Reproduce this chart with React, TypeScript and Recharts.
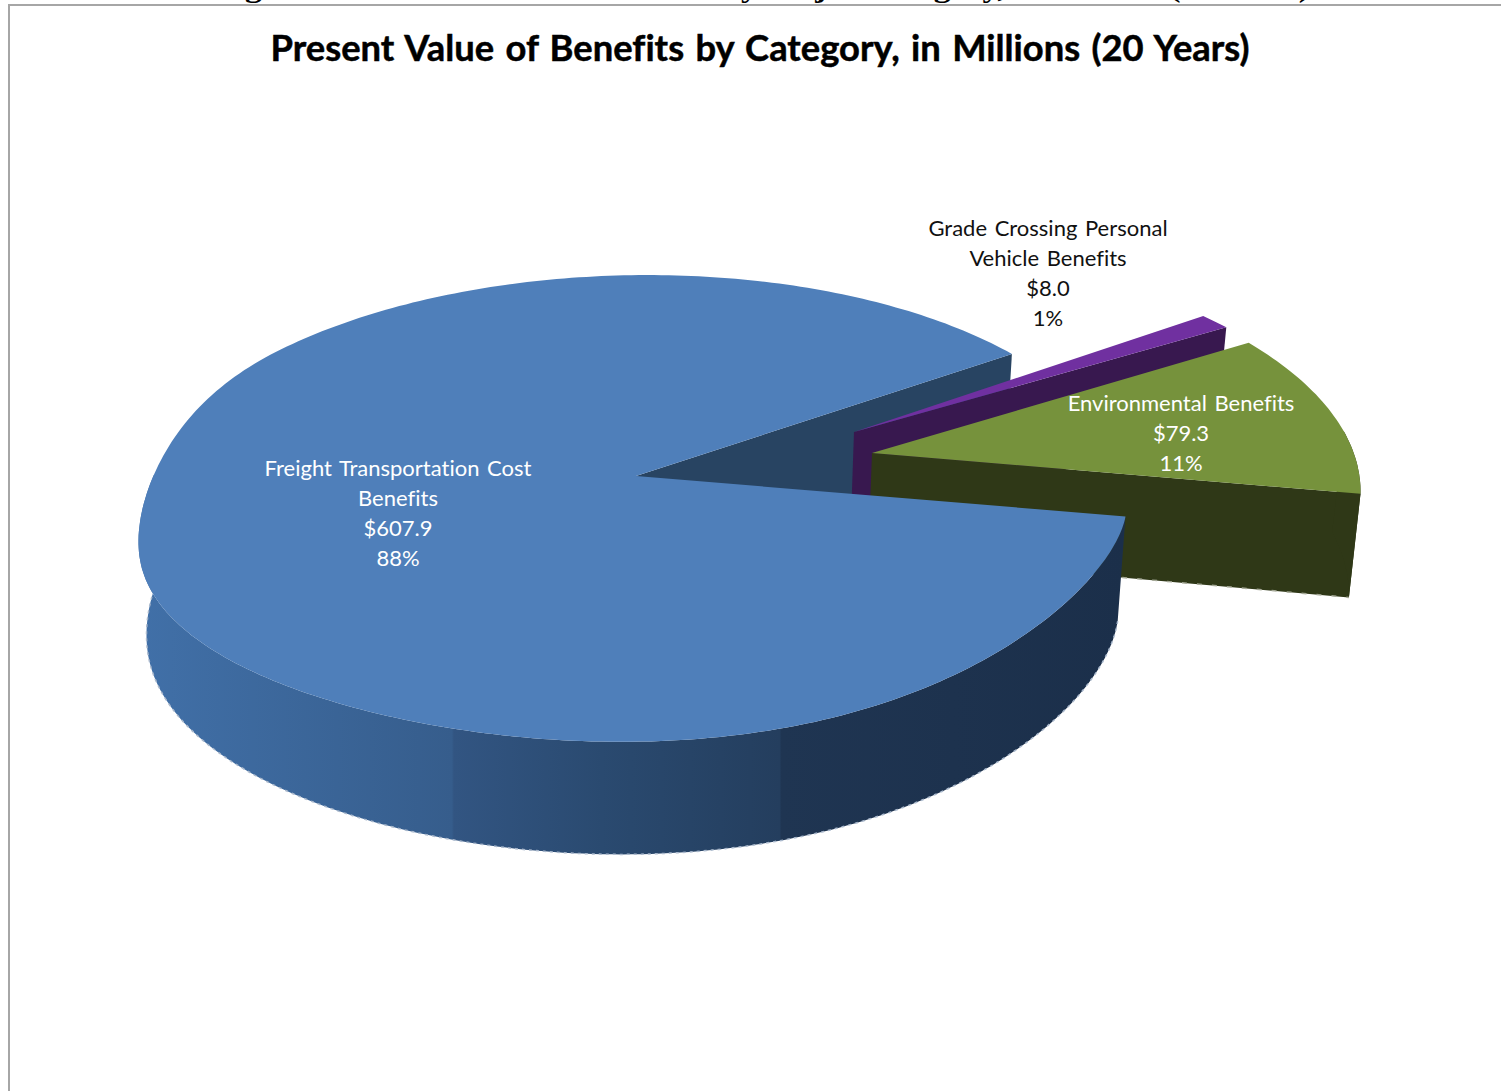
import React from "react";
import { PieChart, Pie } from "recharts";

const WIDTH = 1501;
const HEIGHT = 1091;

// Benefit categories, in clockwise order from the top of the gap
const CATEGORIES = ["Grade Crossing Personal Vehicle Benefits", "Environmental Benefits", "Freight Transportation Cost Benefits"];
const VALUES = [8.0, 79.3, 607.9];
const PERCENT_LABELS = ["1%", "11%", "88%"];

const chartData = CATEGORIES.map((name, i) => ({ name, value: VALUES[i], percentLabel: PERCENT_LABELS[i] }));

// Look of the fake 3D disc
const TILT = 0.468;
const PERSPECTIVE = 0.139;
const DEPTH = 103;
const BOTTOM_SCALE_X = 0.984;
const BOTTOM_SCALE_Y = 1.036;

const FREIGHT = CATEGORIES[2];

type SliceStyle = {
  top: string;
  wall: string;
  side: string;
  dx: number; // explode offset
  dy: number;
  skewBase: number; // rim nudges so the exploded pieces sit right
  skewBack: number;
  scaleY: number;
  warp: boolean;
};

const SLICE_STYLE: Record<string, SliceStyle> = {
  [CATEGORIES[0]]: { top: "#7030a0", wall: "#38184f", side: "#38184f", dx: 217, dy: -44, skewBase: 0, skewBack: -36, scaleY: 0.95, warp: false },
  [CATEGORIES[1]]: { top: "#76923c", wall: "#2f3817", side: "#2f3817", dx: 235, dy: -23, skewBase: -7.3, skewBack: -13.4, scaleY: 1, warp: false },
  [CATEGORIES[2]]: { top: "#4f7fba", wall: "#284462", side: "url(#freightSide)", dx: -1, dy: 0, skewBase: -1.7, skewBack: 13.3, scaleY: 1, warp: true },
};

const LABEL_STYLE: Record<string, { x: number; y: number; color: string; lines: string[] }> = {
  [CATEGORIES[0]]: { x: 1048, y: 227, color: "#111", lines: ["Grade Crossing Personal", "Vehicle Benefits"] },
  [CATEGORIES[1]]: { x: 1181, y: 402, color: "#fff", lines: ["Environmental Benefits"] },
  [CATEGORIES[2]]: { x: 398, y: 467, color: "#fff", lines: ["Freight Transportation Cost", "Benefits"] },
};

type Pt = [number, number];

// The front rim of the big disc is not a clean ellipse: left side sags, right side lifts
function rimWarp(u: number, v: number) {
  if (u < 0) {
    const f = Math.max(0, Math.min(1, (0.6 - v) / 0.9));
    return 30 * Math.pow(-u, 3) * f * f * (3 - 2 * f);
  }
  if (v >= 0) return 0;
  const t = -v;
  return -90 * Math.max(0, t - 0.17) * (1 - t) * u;
}

function project(p: any, deg: number, r: number, bottom: boolean, s: SliceStyle): Pt {
  const rad = (deg * Math.PI) / 180;
  const u = r * Math.cos(rad);
  const v = r * Math.sin(rad);
  const w = 1 + PERSPECTIVE * v;
  const x0 = s.dx + (p.outerRadius * u) / w + r * s.skewBase + s.skewBack * v;
  const y0 = s.dy - (p.outerRadius * TILT * v * s.scaleY) / w;
  const warp = s.warp && r === 1 ? rimWarp(u, v) : 0;
  if (bottom) return [p.cx + x0 * BOTTOM_SCALE_X, p.cy + y0 * BOTTOM_SCALE_Y + DEPTH + warp * 0.6];
  return [p.cx + x0, p.cy + y0 + warp];
}

const toLine = (pts: Pt[]) => "M" + pts.map((q) => `${q[0].toFixed(1)},${q[1].toFixed(1)}`).join("L");
const toPath = (pts: Pt[]) => toLine(pts) + "Z";

function arcAngles(start: number, end: number) {
  const out: number[] = [];
  const n = Math.max(2, Math.ceil(Math.abs(end - start)));
  for (let i = 0; i <= n; i++) out.push(start + ((end - start) * i) / n);
  return out;
}

function wallPath(p: any, s: SliceStyle) {
  return toPath([
    project(p, p.endAngle, 0, false, s),
    project(p, p.endAngle, 1, false, s),
    project(p, p.endAngle, 1, true, s),
    project(p, p.endAngle, 0, true, s),
  ]);
}

// Back layer: the cut face of the big slice has to sit behind the exploded ones
function BackWall(p: any) {
  const name = p.payload?.name ?? p.name;
  if (name !== FREIGHT) return <g />;
  const s = SLICE_STYLE[name];
  return <path d={wallPath(p, s)} fill={s.wall} />;
}

function Slice3D(p: any) {
  const name = p.payload?.name ?? p.name;
  const s = SLICE_STYLE[name];
  const angles = arcAngles(p.startAngle, p.endAngle);
  const topArc = angles.map((a) => project(p, a, 1, false, s));
  const front = angles.filter((a) => Math.sin((a * Math.PI) / 180) <= 0.1);
  const bottomArc = front.map((a) => project(p, a, 1, true, s));
  const side = [...front.map((a) => project(p, a, 1, false, s)), ...[...bottomArc].reverse()];
  const isFreight = name === FREIGHT;
  return (
    <g>
      <defs>
        <linearGradient id="freightSide" gradientUnits="userSpaceOnUse" x1="138" y1="0" x2="1125" y2="0">
          <stop offset="0" stopColor="#4170a8" />
          <stop offset="0.318" stopColor="#365d8c" />
          <stop offset="0.32" stopColor="#325582" />
          <stop offset="0.47" stopColor="#2a4a70" />
          <stop offset="0.65" stopColor="#243e5e" />
          <stop offset="0.652" stopColor="#1f3552" />
          <stop offset="1" stopColor="#1b2f4a" />
        </linearGradient>
      </defs>
      {!isFreight && <path d={wallPath(p, s)} fill={s.wall} />}
      {!isFreight && (
        <path d={toLine([project(p, p.endAngle, 0, true, s), project(p, p.endAngle, 1, true, s)])} fill="none" stroke="#a4a896" strokeWidth={1.5} strokeDasharray="5 10" />
      )}
      {side.length > 2 && <path d={toPath(side)} fill={s.side} />}
      {isFreight && <path d={toLine(bottomArc)} fill="none" stroke="#a9b8cc" strokeWidth={1.5} strokeDasharray="3 4" />}
      <path d={toPath([project(p, 0, 0, false, s), ...topArc])} fill={s.top} />
    </g>
  );
}

function renderLabel(p: any) {
  const name = p.payload?.name ?? p.name;
  const l = LABEL_STYLE[name];
  const lines = [...l.lines, `$${Number(p.value).toFixed(1)}`, p.payload?.percentLabel ?? p.percentLabel];
  return (
    <g>
      {lines.map((t: string, i: number) => (
        <text
          key={i}
          x={l.x}
          y={l.y + i * 30}
          fill={l.color}
          fontFamily="Lato"
          fontSize={22}
          textAnchor="middle"
          dominantBaseline="central"
          wordSpacing={2}
          style={{ fontVariantLigatures: "none" }}
        >
          {t}
        </text>
      ))}
    </g>
  );
}

export default function App() {
  return (
    <div style={{ position: "absolute", left: 0, top: 0, width: WIDTH, height: HEIGHT, overflow: "hidden", background: "#fff" }}>
      <div style={{ position: "absolute", left: 8, top: 4, width: WIDTH, height: HEIGHT, borderLeft: "2px solid #a6a6a6", borderTop: "2px solid #a6a6a6" }} />
      <PieChart width={WIDTH} height={HEIGHT} margin={{ top: 0, right: 0, bottom: 0, left: 0 }} style={{ position: "absolute", left: 0, top: 0 }}>
        {/* caption of the page above, cut off by the top edge */}
        <text x={215} y={-3} fontFamily="Liberation Serif" fontWeight={700} fontSize={28} fill="#000" textLength={1095} lengthAdjust="spacingAndGlyphs">
          Figure 4: Present Value of Benefits by Major Category, 2016-2035 (Millions)
        </text>
        <text
          x={760}
          y={46}
          textAnchor="middle"
          dominantBaseline="central"
          fontFamily="Lato"
          fontWeight={700}
          fontSize={37}
          fill="#000"
          stroke="#000"
          strokeWidth={0.5}
          wordSpacing={2.5}
          textLength={979}
          lengthAdjust="spacingAndGlyphs"
          style={{ fontVariantLigatures: "none" }}
        >
          Present Value of Benefits by Category, in Millions (20 Years)
        </text>
        <Pie data={chartData} dataKey="value" nameKey="name" cx={637} cy={476} outerRadius={489} startAngle={35.2} endAngle={-324.8} stroke="none" isAnimationActive={false} shape={BackWall} />
        <Pie data={chartData} dataKey="value" nameKey="name" cx={637} cy={476} outerRadius={489} startAngle={35.2} endAngle={-324.8} stroke="none" isAnimationActive={false} shape={Slice3D} label={renderLabel} labelLine={false} />
      </PieChart>
    </div>
  );
}
